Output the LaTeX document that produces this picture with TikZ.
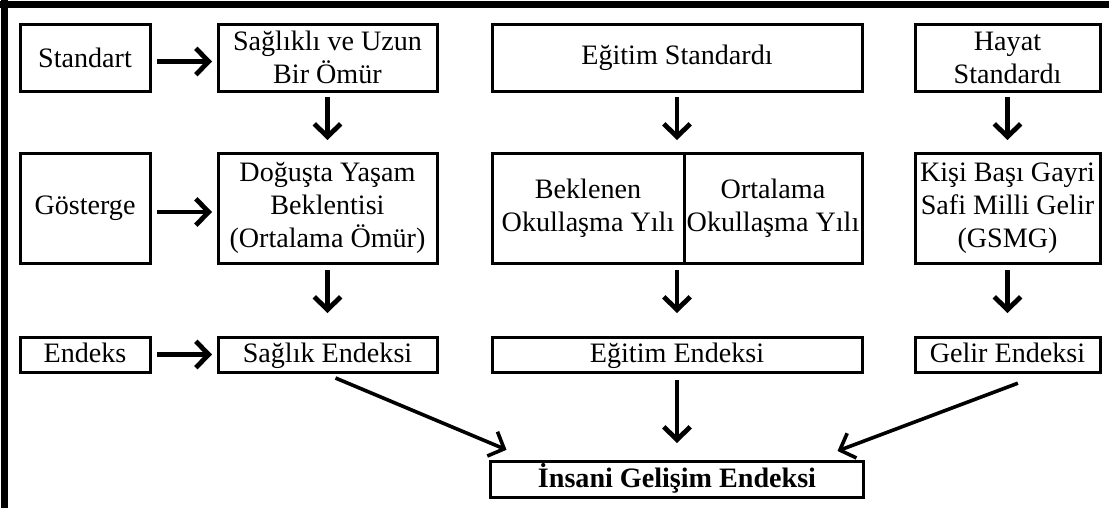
\documentclass[tikz,border=0pt]{standalone}
\usepackage{fontspec}
\setmainfont{Liberation Serif}
\usetikzlibrary{positioning, calc}
\usetikzlibrary{arrows.meta}
\tikzstyle{box} = [rectangle, draw=black, line width=0.075cm, outer sep=0pt, inner sep=1pt, align=center, fill=white, font=\fontsize{20}{23.5}\selectfont]
\tikzstyle{lbl} = [box, minimum width=3.25cm]
\tikzstyle{flat} = [box, minimum height=0.875cm, text height=14pt, text depth=2pt]
\tikzstyle{arrow} = [line width=0.12cm, -{Straight Barb[length=0.32cm, width=0.66cm]}]
\tikzstyle{diag} = [line width=0.09cm, -{Straight Barb[length=0.32cm, width=0.66cm]}]

\begin{document}
\begin{tikzpicture}[node distance=1.55cm and 1.7cm]
    \useasboundingbox (0,0) rectangle (27.725,-12.7);
    % frame (cut at right and bottom)
    \draw[line width=0.175cm] (0,-0.1) -- (27.725,-0.1);
    \draw[line width=0.175cm] (0.1,0) -- (0.1,-12.7);

    % row 1
    \node (std) [lbl, minimum height=1.675cm] at (2.125,-1.4375) {Standart};
    \node (saglikli) [box, minimum width=5.475cm, minimum height=1.675cm, right=1.7cm of std] {Sağlıklı ve Uzun\\Bir Ömür};
    \node (egstd) [box, minimum width=9.25cm, minimum height=1.675cm, right=1.375cm of saglikli] {Eğitim Standardı};
    \node (hayat) [box, minimum width=4.625cm, minimum height=1.675cm, right=1.325cm of egstd] {Hayat\\Standardı};

    % row 2
    \node (gosterge) [lbl, minimum height=2.75cm, below=of std] {Gösterge};
    \node (dogusta) [box, minimum width=5.475cm, minimum height=2.75cm, below=of saglikli] {Doğuşta Yaşam\\Beklentisi\\(Ortalama Ömür)};
    \node (beklenen) [box, minimum width=4.8cm, minimum height=2.75cm, below right=1.55cm and 0cm of egstd.south west] {Beklenen\\Okullaşma Yılı};
    \node (ortalama) [box, minimum width=4.45cm, minimum height=2.75cm, right=0cm of beklenen] {Ortalama\\Okullaşma Yılı};
    \node (kisi) [box, minimum width=4.625cm, minimum height=2.75cm, below=of hayat] {Kişi Başı Gayri\\Safi Milli Gelir\\(GSMG)};

    % row 3
    \node (endeks) [flat, minimum width=3.25cm, below=1.85cm of gosterge] {Endeks};
    \node (saglik) [flat, minimum width=5.475cm, below=1.85cm of dogusta] {Sağlık Endeksi};
    \node (egend) [flat, minimum width=9.25cm, below right=1.85cm and 0cm of beklenen.south west] {Eğitim Endeksi};
    \node (gelend) [flat, minimum width=4.625cm, below=1.85cm of kisi] {Gelir Endeksi};

    \node (insani) [flat, minimum width=9.325cm, minimum height=0.9cm, below=2.225cm of egend] {\textbf{İnsani Gelişim Endeksi}};

    \draw [arrow, shorten <=0.175cm, shorten >=0.15cm, transform canvas={yshift=-0.1cm}] (std) -- (saglikli);
    \draw [arrow, shorten <=0.175cm, shorten >=0.15cm, transform canvas={yshift=-0.1cm}] (gosterge) -- (dogusta);
    \draw [arrow, shorten <=0.175cm, shorten >=0.15cm] (endeks) -- (saglik);

    \draw [arrow, shorten <=0.16cm, shorten >=0.325cm] (saglikli) -- (dogusta);
    \draw [arrow, shorten <=0.16cm, shorten >=0.325cm] (egstd.south) -- (egend.north |- ortalama.north);
    \draw [arrow, shorten <=0.16cm, shorten >=0.325cm] (hayat) -- (kisi);

    \draw [arrow, shorten <=0.175cm, shorten >=0.6cm] (dogusta) -- (saglik);
    \draw [arrow, shorten <=0.175cm, shorten >=0.6cm] (egend.north |- ortalama.south) -- (egend.north);
    \draw [arrow, shorten <=0.175cm, shorten >=0.6cm] (kisi) -- (gelend);

    \draw [arrow, shorten <=0.2cm, shorten >=0.45cm] (egend) -- (insani);
    \draw [diag] ($(saglik.south)+(0.2,-0.15)$) -- ($(insani.north west)+(0.4,0.28)$);
    \draw [diag] ($(gelend.south)+(0.26,-0.28)$) -- ($(insani.north east)+(-0.65,0.25)$);
\end{tikzpicture}
\end{document}
